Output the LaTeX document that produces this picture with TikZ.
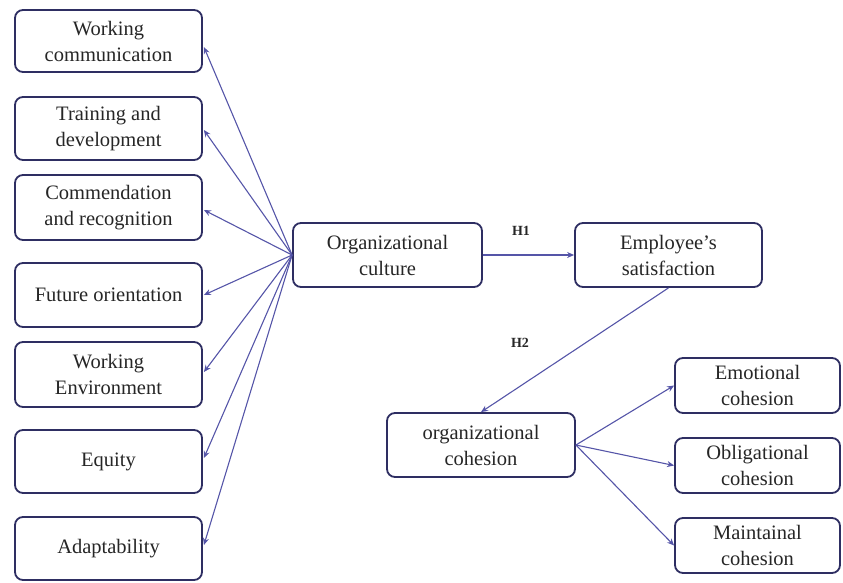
\documentclass[tikz,border=0pt]{standalone}
\usepackage{fontspec}
\setmainfont{Liberation Serif}
\usetikzlibrary{arrows.meta,calc}
\definecolor{boxline}{HTML}{2E2E62}
\definecolor{arrowc}{HTML}{5555A8}
\definecolor{txt}{HTML}{262626}
\begin{document}
\begin{tikzpicture}[x=1pt,y=1pt,
  box/.style={draw=boxline, line width=1.8pt, rounded corners=8pt, fill=white,
    align=center, text=txt, inner sep=0pt,
    font=\fontsize{20.5}{26}\selectfont},
  conn/.style={draw=arrowc, line width=1.1pt, -{Stealth[length=7pt,width=6pt]}},
  hlab/.style={font=\bfseries\fontsize{14}{16}\selectfont, text=txt}
]
\useasboundingbox (0,0) rectangle (843,-582);
% left boxes
\node[box, minimum width=187pt, minimum height=62pt] (b1) at (108.5,-41) {Working\\communication};
\node[box, minimum width=187pt, minimum height=63pt] (b2) at (108.5,-128.5) {Training and\\development};
\node[box, minimum width=187pt, minimum height=65pt] (b3) at (108.5,-207.5) {Commendation\\and recognition};
\node[box, minimum width=187pt, minimum height=64pt] (b4) at (108.5,-295) {Future orientation};
\node[box, minimum width=187pt, minimum height=65pt] (b5) at (108.5,-374.5) {Working\\Environment};
\node[box, minimum width=187pt, minimum height=63pt] (b6) at (108.5,-461.5) {Equity};
\node[box, minimum width=187pt, minimum height=63pt] (b7) at (108.5,-548.5) {Adaptability};
% center
\node[box, minimum width=189pt, minimum height=64pt] (oc) at (387.5,-255) {Organizational\\culture};
\node[box, minimum width=187pt, minimum height=64pt] (es) at (668.5,-255) {Employee’s\\satisfaction};
\node[box, minimum width=188pt, minimum height=64pt] (coh) at (481,-445) {organizational\\cohesion};
% right
\node[box, minimum width=165pt, minimum height=55pt] (em) at (757.5,-385.5) {Emotional\\cohesion};
\node[box, minimum width=165pt, minimum height=55pt] (ob) at (757.5,-465.5) {Obligational\\cohesion};
\node[box, minimum width=165pt, minimum height=55pt] (ma) at (757.5,-545.5) {Maintainal\\cohesion};
% labels
\node[hlab] (h1) at (521,-231) {H1};
\node[hlab] (h2) at (520,-343) {H2};
% connectors
\draw[conn] (oc.west) -- ($(b1.east)+(1,-6)$);
\draw[conn] (oc.west) -- ($(b2.east)+(1,-1.5)$);
\draw[conn] (oc.west) -- ($(b3.east)+(1,-2.5)$);
\draw[conn] (oc.west) -- ($(b4.east)+(1,0)$);
\draw[conn] (oc.west) -- ($(b5.east)+(1,2.5)$);
\draw[conn] (oc.west) -- ($(b6.east)+(1,3.5)$);
\draw[conn] (oc.west) -- ($(b7.east)+(1,3.5)$);
\draw[conn] (oc.east) -- (es.west);
\draw[conn] (es.south) -- (coh.north);
\draw[conn] (coh.east) -- (em.west);
\draw[conn] (coh.east) -- (ob.west);
\draw[conn] (coh.east) -- (ma.west);
\end{tikzpicture}
\end{document}
